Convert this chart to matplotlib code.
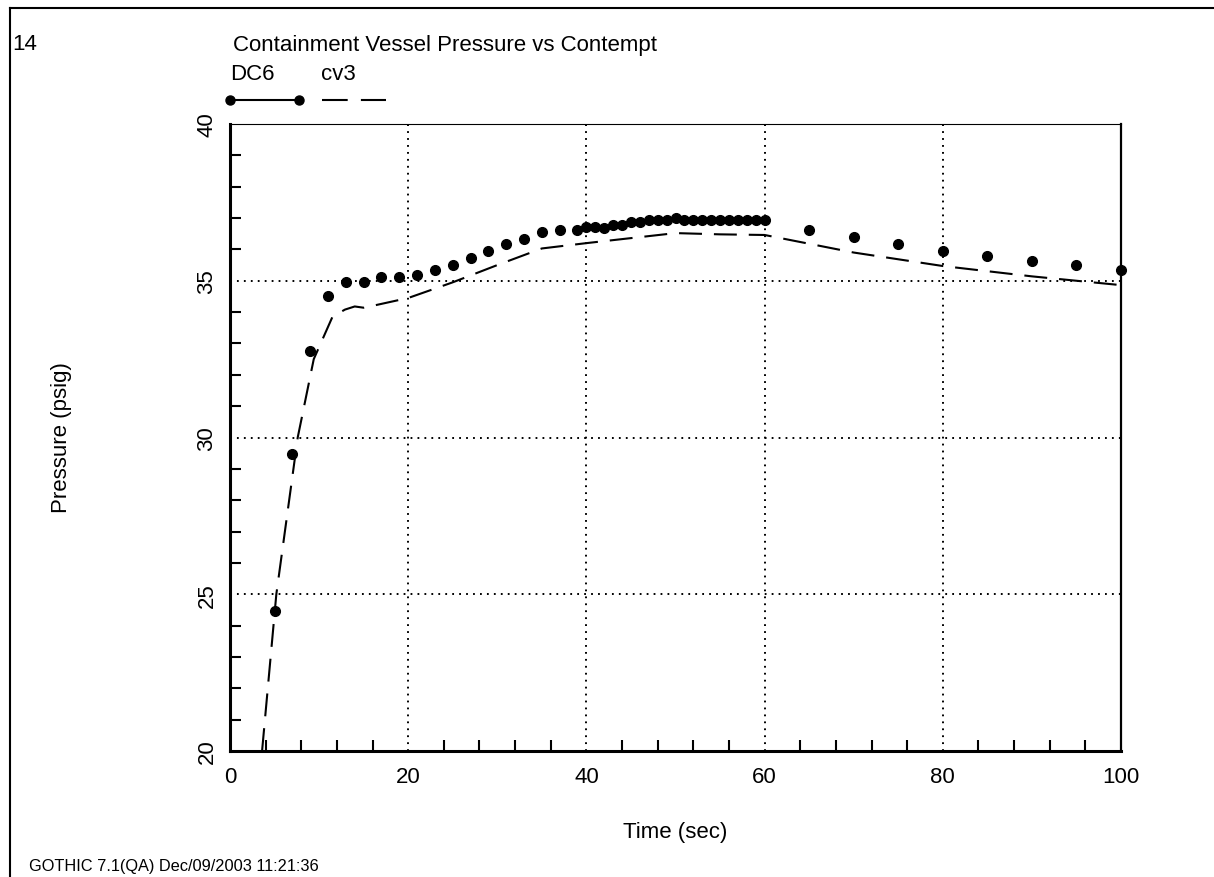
import matplotlib
matplotlib.use("Agg")
import matplotlib.pyplot as plt
from matplotlib.ticker import MultipleLocator
from matplotlib.lines import Line2D

plt.rcParams['font.family'] = ['Liberation Sans', 'DejaVu Sans']
plt.rcParams['lines.scale_dashes'] = False

# DC6 data (dots)
dc6_time = [5, 7, 9, 11, 13, 15, 17, 19, 21, 23, 25, 27, 29, 31, 33, 35, 37, 39,
            40, 41, 42, 43, 44, 45, 46, 47, 48, 49, 50, 51, 52, 53, 54, 55, 56, 57,
            58, 59, 60, 65, 70, 75, 80, 85, 90, 95, 100]
dc6_pressure = [24.47, 29.48, 32.77, 34.50, 34.95, 34.95, 35.12, 35.12, 35.19, 35.33,
                35.49, 35.73, 35.94, 36.17, 36.33, 36.55, 36.63, 36.63,
                36.72, 36.72, 36.69, 36.79, 36.79, 36.87, 36.87, 36.94, 36.94, 36.94,
                37.01, 36.94, 36.94, 36.94, 36.94, 36.94, 36.94, 36.94, 36.94, 36.94,
                36.94, 36.63, 36.41, 36.17, 35.94, 35.80, 35.64, 35.49, 35.33]

# cv3 data (dashed)
cv3_time = [3.6, 5.2, 7.6, 9.4, 11.5, 12.9, 14.0, 15.0, 16.0, 20.0, 25.0, 30.0, 35.0,
            40.0, 45.0, 50.0, 55.0, 60.0, 70.0, 80.0, 90.0, 100.0]
cv3_pressure = [20.0, 25.0, 30.0, 32.5, 33.85, 34.08, 34.18, 34.14, 34.2, 34.45, 34.95,
                35.5, 36.03, 36.2, 36.36, 36.52, 36.48, 36.46, 35.9, 35.47, 35.14, 34.86]

x_ticks = [0, 20, 40, 60, 80, 100]
y_ticks = [20, 25, 30, 35, 40]

W, H = 1214, 878
fig = plt.figure(figsize=(W / 100, H / 100), dpi=100)

def fx(px):
    return px / W

def fy(py):
    return 1 - py / H

FS = 16

ax = fig.add_axes([fx(230), fy(752), fx(1121) - fx(230), fy(125) - fy(752)])

ax.plot(cv3_time, cv3_pressure, color='black', lw=1.5, linestyle=(0, (16.5, 8.6)), clip_on=True)
ax.plot(dc6_time, dc6_pressure, linestyle='none', marker='o', ms=7, color='black', clip_on=False)

ax.set_xlim(0, 100)
ax.set_ylim(20, 40)
ax.set_xticks(x_ticks)
ax.set_yticks(y_ticks)
ax.xaxis.set_minor_locator(MultipleLocator(4))
ax.yaxis.set_minor_locator(MultipleLocator(1))
ax.tick_params(which='major', length=0, labelsize=FS, pad=11)
ax.tick_params(axis='y', which='major', pad=9)
ax.tick_params(which='minor', direction='in', length=8, width=1.5)
ax.tick_params(axis='x', which='minor', top=False)
ax.tick_params(axis='y', which='minor', right=False)
for lab in ax.get_yticklabels():
    lab.set_rotation(90)
    lab.set_va('center')

ax.grid(True, which='major', linestyle=(0, (1.3, 3.7)), color='black', lw=1.4)

ax.spines['left'].set_linewidth(2.2)
ax.spines['bottom'].set_linewidth(2.2)
ax.spines['right'].set_linewidth(1.6)
ax.spines['top'].set_linewidth(0.8)

ax.set_xlabel('Time (sec)', fontsize=FS, labelpad=24)
fig.text(fx(62), fy(438), 'Pressure (psig)', rotation=90, fontsize=FS, ha='center', va='center')

# header texts
fig.text(fx(12), fy(45), '14', fontsize=FS, ha='left', va='center')
fig.text(fx(233), fy(45), 'Containment Vessel Pressure vs Contempt', fontsize=FS, ha='left', va='center')
fig.text(fx(230), fy(75), 'DC6', fontsize=FS, ha='left', va='center')
fig.text(fx(321), fy(75), 'cv3', fontsize=FS, ha='left', va='center')

# legend samples
fig.add_artist(Line2D([fx(230), fx(299)], [fy(101), fy(101)], color='black', lw=1.5,
                      marker='o', ms=6.5, transform=fig.transFigure))
fig.add_artist(Line2D([fx(322), fx(386)], [fy(101), fy(101)], color='black', lw=1.5,
                      linestyle=(0, (18.5, 9.5)), transform=fig.transFigure))

fig.text(fx(29), fy(867), 'GOTHIC 7.1(QA) Dec/09/2003 11:21:36', fontsize=11.8, ha='left', va='center')

# page border
fig.add_artist(Line2D([fx(10), fx(1214)], [fy(9), fy(9)], color='black', lw=1.5, transform=fig.transFigure))
fig.add_artist(Line2D([fx(10), fx(10)], [fy(9), fy(878)], color='black', lw=1.5, transform=fig.transFigure))

fig.savefig('out.png', dpi=100)
